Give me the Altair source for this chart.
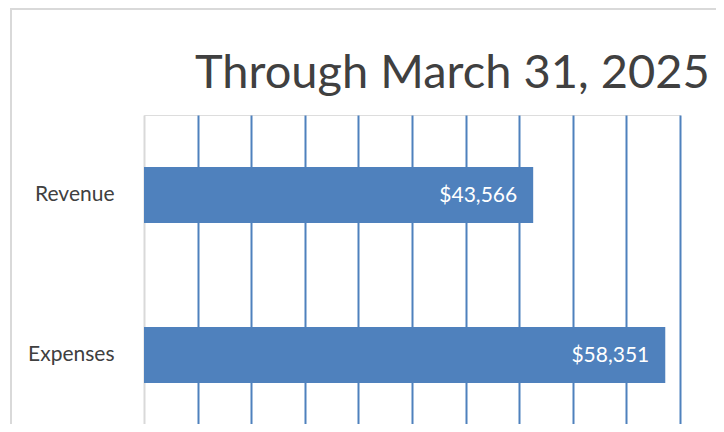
import altair as alt
import pandas as pd

categories = ["Revenue", "Expenses"]
values = [43566, 58351]
grid_values = [6000, 12000, 18000, 24000, 30000, 36000, 42000, 48000, 54000, 60000]

df = pd.DataFrame({"category": categories, "value": values})

BLUE = "#4f81bd"
TEXT = "#404040"
FONT = "Lato"

y_enc = alt.Y(
    "category:N",
    sort=categories,
    scale=alt.Scale(paddingInner=0.65, paddingOuter=0.325, range=[0, 320]),
    axis=alt.Axis(
        title=None,
        ticks=False,
        labelFont=FONT,
        labelFontSize=21,
        labelColor=TEXT,
        labelPadding=30,
        domainColor="#d9d9d9",
        domainWidth=2,
        grid=False,
    ),
)
x_enc = alt.X(
    "value:Q",
    scale=alt.Scale(domain=[0, 60000], nice=False),
    axis=alt.Axis(
        orient="top",
        title=None,
        labels=False,
        ticks=False,
        domain=False,
        grid=True,
        values=grid_values,
        gridColor=BLUE,
        gridWidth=2,
        gridOpacity=1,
    ),
)

base = alt.Chart(df)

bars = base.mark_bar(color=BLUE).encode(x=x_enc, y=y_enc)

labels = base.mark_text(
    align="right", baseline="middle", dx=-16, dy=1, color="white", font=FONT, fontSize=21
).encode(x="value:Q", y=alt.Y("category:N", sort=categories), text=alt.Text("value:Q", format="$,.0f"))

frame_left = base.mark_rule(color="#d9d9d9", strokeWidth=2).encode(
    x=alt.value(-133), y=alt.value(-107), y2=alt.value(309)
)
frame_top = base.mark_rule(color="#d9d9d9", strokeWidth=2).encode(
    x=alt.value(-133), x2=alt.value(572), y=alt.value(-106)
)

chart = (
    alt.layer(frame_left, frame_top, bars, labels)
    .properties(
        width=536,
        height=309,
        autosize=alt.AutoSizeParams(type="none"),
        padding={"left": 136, "top": 107, "right": 36, "bottom": 0},
        title=alt.TitleParams(
            "Through March 31, 2025",
            font=FONT,
            fontSize=47,
            fontWeight="normal",
            color=TEXT,
            anchor="start",
            frame="group",
            baseline="alphabetic",
            dx=51,
            dy=156,
            offset=28,
        ),
    )
    .configure_view(stroke=None)
    .configure(background="white")
)

chart.save("out.html", embed_options={"renderer": "svg", "actions": False})
